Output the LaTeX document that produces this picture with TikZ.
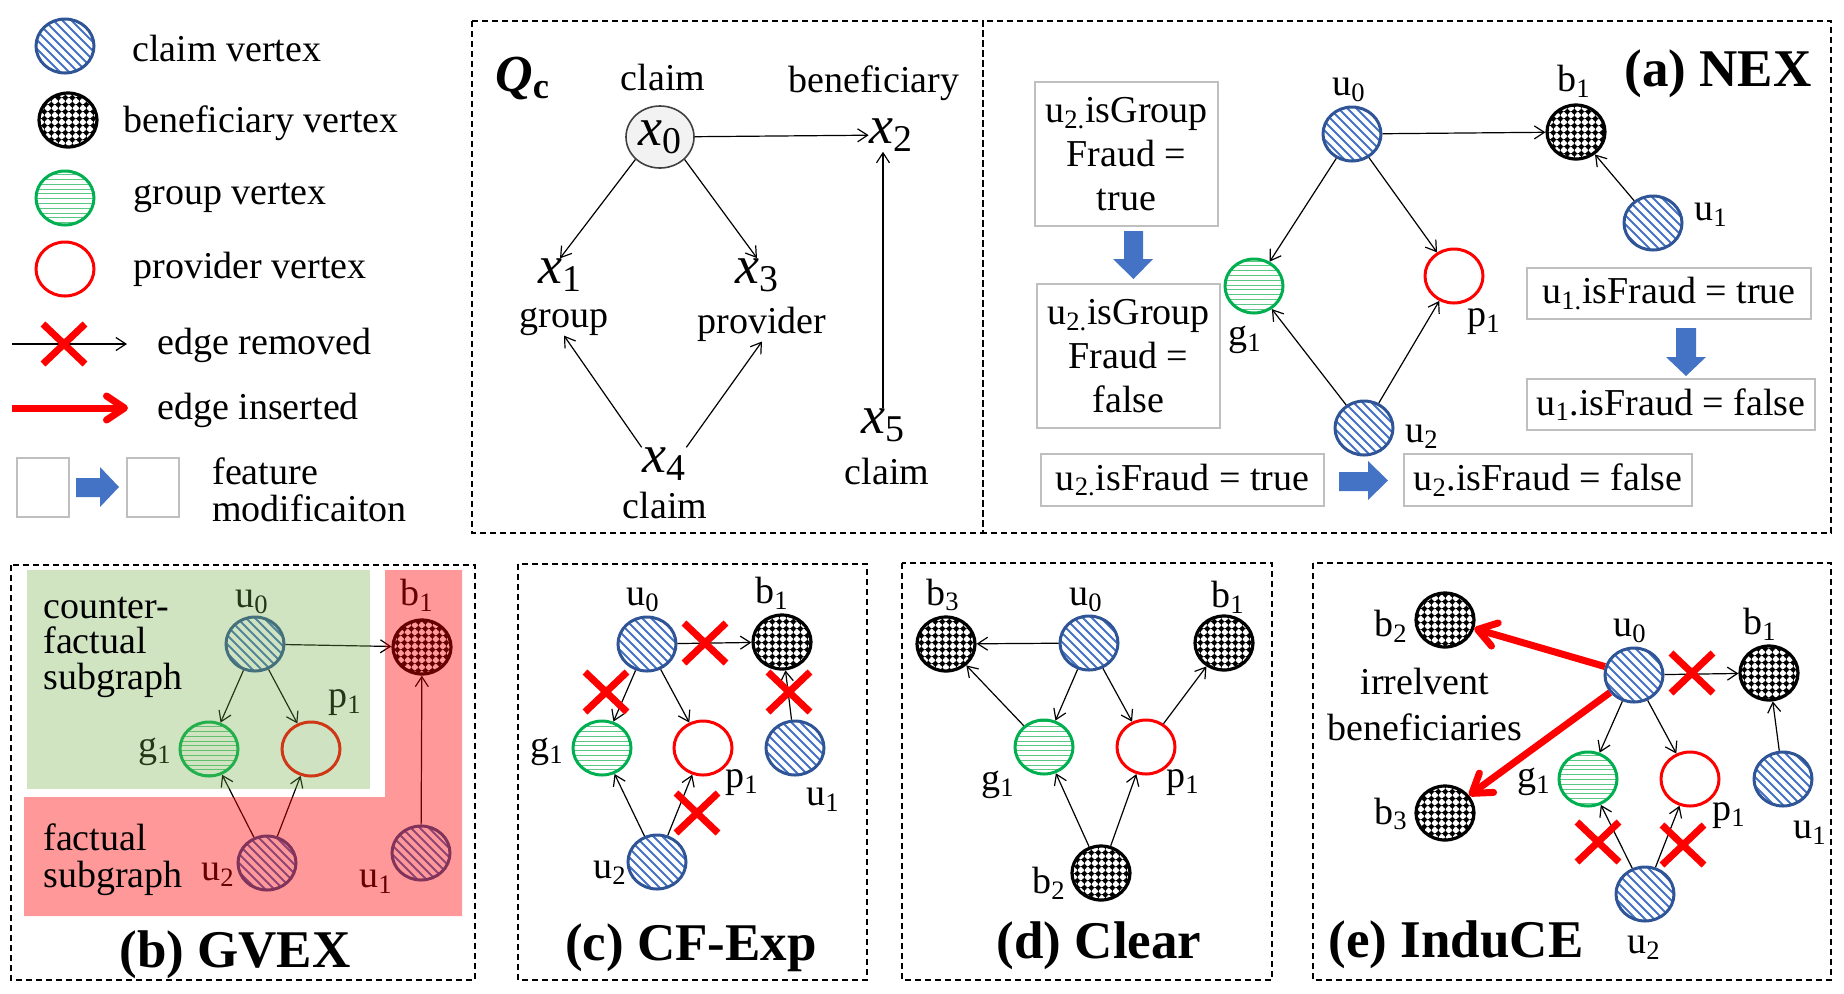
\documentclass[tikz,border=0pt]{standalone}
\usepackage{fontspec}
\setmainfont{Liberation Serif}
\usetikzlibrary{arrows.meta,patterns,shapes.geometric}
\definecolor{claimline}{RGB}{47,85,151}
\definecolor{claimfill}{RGB}{68,114,196}
\definecolor{grpline}{RGB}{0,176,80}
\definecolor{grpfill}{RGB}{90,200,130}
\definecolor{boxgray}{RGB}{191,191,191}
\definecolor{blockblue}{RGB}{68,114,196}
\definecolor{cfgreen}{RGB}{112,173,71}
\pgfdeclarepatternformonly{claimhatch}{\pgfqpoint{-1pt}{-1pt}}{\pgfqpoint{5.5pt}{5.5pt}}{\pgfqpoint{4.5pt}{4.5pt}}{%
  \pgfsetlinewidth{0.9pt}%
  \pgfpathmoveto{\pgfqpoint{0pt}{4.5pt}}\pgfpathlineto{\pgfqpoint{4.6pt}{-0.1pt}}%
  \pgfusepath{stroke}}
\pgfdeclarepatternformonly{grphatch}{\pgfqpoint{-1pt}{0pt}}{\pgfqpoint{3.4pt}{2.4pt}}{\pgfqpoint{2.4pt}{2.4pt}}{%
  \pgfsetlinewidth{0.5pt}%
  \pgfpathmoveto{\pgfqpoint{-0.1pt}{1.2pt}}\pgfpathlineto{\pgfqpoint{2.5pt}{1.2pt}}%
  \pgfusepath{stroke}}
\pgfdeclarepatternformonly{bendots}{\pgfpointorigin}{\pgfqpoint{3.4pt}{3.4pt}}{\pgfqpoint{3.4pt}{3.4pt}}{%
  \pgfsetlinewidth{0.5pt}%
  \pgfpathmoveto{\pgfqpoint{0pt}{1.7pt}}\pgfpathlineto{\pgfqpoint{3.4pt}{1.7pt}}%
  \pgfpathmoveto{\pgfqpoint{1.7pt}{0pt}}\pgfpathlineto{\pgfqpoint{1.7pt}{3.4pt}}%
  \pgfusepath{stroke}%
  \pgfpathcircle{\pgfqpoint{1.7pt}{1.7pt}}{1.25pt}\pgfusepath{fill}}
\begin{document}
\begin{tikzpicture}[x=0.5pt,y=-0.5pt,
  vtx/.style={ellipse,line width=1.5pt,minimum width=29pt,minimum height=27pt,inner sep=0pt},
  claim/.style={vtx,draw=claimline,pattern=claimhatch,pattern color=claimfill},
  ben/.style={vtx,draw=black,line width=1.6pt,pattern=bendots,pattern color=black},
  grp/.style={vtx,draw=grpline,pattern=grphatch,pattern color=grpfill},
  prov/.style={vtx,draw=red,fill=white},
  edg/.style={draw,line width=0.6pt,-{Straight Barb[length=5pt,width=6.5pt]}},
  ins/.style={draw=red,line width=3.5pt,-{Straight Barb[length=9pt,width=12pt,round]}},
  lbl/.style={font=\fontsize{19}{19}\selectfont,inner sep=0pt},
  txt/.style={lbl,anchor=base west},
  mth/.style={font=\fontsize{27}{27}\selectfont\itshape,inner sep=0pt},
  ttl/.style={font=\fontsize{26.5}{26.5}\selectfont\bfseries,inner sep=0pt},
  fbox/.style={draw=boxgray,line width=0.8pt,font=\fontsize{19}{22}\selectfont,align=center,inner sep=0pt},
  panel/.style={draw,dash pattern=on 3pt off 2pt,line width=0.7pt},
  xmark/.pic={\draw[red,line width=3.5pt] (-21,-20) -- (21,20) (-21,20) -- (21,-20);}]
\useasboundingbox (0,0) rectangle (1844,993);
\draw[panel] (472,21) rectangle (983,533);
\draw[panel] (983,21) rectangle (1831,533);
\draw[panel] (11,565) rectangle (475,980);
\draw[panel] (518,564) rectangle (867,980);
\draw[panel] (902,563) rectangle (1272,980);
\draw[panel] (1313,563) rectangle (1831,980);
% legend
\node[claim] (lc) at (65,46) {};
\node[ben] (lb) at (68,120) {};
\node[grp] (lg) at (65,198) {};
\node[prov] (lp) at (65,269) {};
\node[txt] (lct) at (132,61) {claim vertex};
\node[txt] (lbt) at (123,132) {beneficiary vertex};
\node[txt] (lgt) at (133,204) {group vertex};
\node[txt] (lpt) at (133,278) {provider vertex};
\coordinate (rm1) at (12,344);
\coordinate (rm2) at (127,344);
\draw[edg] (rm1) -- (rm2);
\pic at (64,344) {xmark};
\node[txt] (lrt) at (157,354) {edge removed};
\coordinate (in1) at (12,408);
\coordinate (in2) at (128,408);
\draw[ins] (in1) -- (in2);
\node[txt] (lit) at (157,419) {edge inserted};
\draw[boxgray,line width=0.8pt] (17,458) rectangle (69,517) (127,458) rectangle (179,517);
\fill[blockblue] (76,478) -- (100,478) -- (100,467) -- (119,487) -- (100,507) -- (100,497) -- (76,497) -- cycle;
\node[txt] (lft) at (212,484) {feature};
\node[txt] (lmt) at (212,521) {modificaiton};
% Q_c
\node[mth,font=\fontsize{26}{26}\selectfont\bfseries\itshape,anchor=base west] (qc) at (495,91) {Q\textsubscript{\upshape c}};
\node[mth,ellipse,draw=black!75,fill=black!5,line width=0.8pt,minimum width=34pt,minimum height=31pt] (x0) at (660,137) {x\textsubscript{\upshape 0}};
\node[mth] (x2) at (891,135) {x\textsubscript{\upshape 2}};
\node[mth] (x1) at (560,275) {x\textsubscript{\upshape 1}};
\node[mth] (x3) at (757,275) {x\textsubscript{\upshape 3}};
\node[mth] (x4) at (664,464) {x\textsubscript{\upshape 4}};
\node[mth] (x5) at (883,425) {x\textsubscript{\upshape 5}};
\node[lbl,anchor=base] (x0l) at (663,90) {claim};
\node[lbl,anchor=base] (x2l) at (874,92) {beneficiary};
\node[lbl,anchor=base] (x1l) at (564,327) {group};
\node[lbl,anchor=base] (x3l) at (762,333) {provider};
\node[lbl,anchor=base] (x4l) at (665,518) {claim};
\node[lbl,anchor=base] (x5l) at (887,484) {claim};
\draw[edg] (x0) -- (x2);
\draw[edg] (x0.south west) -- (x1.north);
\draw[edg] (x0.south east) -- (x3.north);
\draw[edg] (x4.north west) -- (x1l.south);
\draw[edg] (x4.north east) -- (x3l.south);
\draw[edg] (x5.north) -- (x5.north |- x2.south);
% (a) NEX
\node[claim] (nu0) at (1352,134) {};
\node[ben] (nb1) at (1576,132) {};
\node[claim] (nu1) at (1653,223) {};
\node[grp] (ng1) at (1254,286) {};
\node[prov] (np1) at (1454,276) {};
\node[claim] (nu2) at (1364,428) {};
\node[lbl] (nu0l) at (1349,90) {u\textsubscript{0}};
\node[lbl] (nb1l) at (1574,81) {b\textsubscript{1}};
\node[lbl] (nu1l) at (1711,215) {u\textsubscript{1}};
\node[lbl] (ng1l) at (1245,340) {g\textsubscript{1}};
\node[lbl] (np1l) at (1484,322) {p\textsubscript{1}};
\node[lbl] (nu2l) at (1422,437) {u\textsubscript{2}};
\path (nu0) edge[edg] (nb1) edge[edg] (ng1) edge[edg] (np1)
      (nu2) edge[edg] (ng1) edge[edg] (np1)
      (nu1) edge[edg] (nb1);
\node[fbox,minimum width=91.5pt,minimum height=72pt] (gb1) at (1126.5,154) {u\textsubscript{2.}isGroup\\Fraud =\\true};
\node[fbox,minimum width=91.5pt,minimum height=72pt] (gb2) at (1128.5,356) {u\textsubscript{2.}isGroup\\Fraud =\\false};
\node[fbox,minimum width=141.5pt,minimum height=26pt] (fb1) at (1182.5,480) {u\textsubscript{2.}isFraud = true};
\node[fbox,minimum width=144pt,minimum height=26pt] (fb2) at (1548,480) {u\textsubscript{2}.isFraud = false};
\node[fbox,minimum width=142pt,minimum height=25.5pt] (fb3) at (1669,293.5) {u\textsubscript{1.}isFraud = true};
\node[fbox,minimum width=144pt,minimum height=25.5pt] (fb4) at (1671,404.5) {u\textsubscript{1}.isFraud = false};
\fill[blockblue] (1124,231) -- (1143,231) -- (1143,259) -- (1153,259) -- (1133.5,279) -- (1113,259) -- (1124,259) -- cycle;
\fill[blockblue] (1339,472) -- (1368,472) -- (1368,461) -- (1388,480.5) -- (1368,500) -- (1368,491) -- (1339,491) -- cycle;
\fill[blockblue] (1676,328) -- (1696,328) -- (1696,357) -- (1706,357) -- (1686,376) -- (1666,357) -- (1676,357) -- cycle;
\node[ttl] (ta) at (1718,74) {(a) NEX};
% (b) GVEX
\node[claim] (gu0) at (255,644) {};
\node[ben] (gb1) at (422,647) {};
\node[grp] (gg1) at (209,749) {};
\node[prov] (gp1) at (311,749) {};
\node[claim] (gu2) at (267,863) {};
\node[claim] (gu1) at (421,853) {};
\node[lbl] (gu0l) at (252,602) {u\textsubscript{0}};
\node[lbl] (gb1l) at (417,595) {b\textsubscript{1}};
\node[lbl] (gg1l) at (155,752) {g\textsubscript{1}};
\node[lbl] (gp1l) at (345,703) {p\textsubscript{1}};
\node[lbl] (gu2l) at (218,875) {u\textsubscript{2}};
\node[lbl] (gu1l) at (376,882) {u\textsubscript{1}};
\path (gu0) edge[edg] (gb1) edge[edg] (gg1) edge[edg] (gp1)
      (gu2) edge[edg] (gg1) edge[edg] (gp1)
      (gu1) edge[edg] (gb1);
\fill[cfgreen,fill opacity=0.33] (27,570) rectangle (370,789);
\fill[red,fill opacity=0.4] (385,570) -- (462,570) -- (462,916) -- (24,916) -- (24,797) -- (385,797) -- cycle;
\node[lbl,font=\fontsize{19}{17.75}\selectfont,align=left,anchor=west] (cft) at (43,647) {counter-\\factual\\subgraph};
\node[lbl,font=\fontsize{19}{18.5}\selectfont,align=left,anchor=west] (ft) at (43,860) {factual\\subgraph};
\node[ttl] (tb) at (235,955) {(b) GVEX};
% (c) CF-Exp
\node[claim] (cu0) at (647,644) {};
\node[ben] (cb1) at (782,642) {};
\node[grp] (cg1) at (602,748) {};
\node[prov] (cp1) at (703,748) {};
\node[claim] (cu1) at (795,748) {};
\node[claim] (cu2) at (657,862) {};
\node[lbl] (cu0l) at (643,600) {u\textsubscript{0}};
\node[lbl] (cb1l) at (772,593) {b\textsubscript{1}};
\node[lbl] (cg1l) at (547,752) {g\textsubscript{1}};
\node[lbl] (cp1l) at (742,783) {p\textsubscript{1}};
\node[lbl] (cu1l) at (823,800) {u\textsubscript{1}};
\node[lbl] (cu2l) at (610,873) {u\textsubscript{2}};
\path (cu0) edge[edg] (cb1) edge[edg] (cg1) edge[edg] (cp1)
      (cu2) edge[edg] (cg1) edge[edg] (cp1)
      (cu1) edge[edg] (cb1);
\pic at (705,643) {xmark};
\pic at (606,692) {xmark};
\pic at (789,692) {xmark};
\pic at (697,813) {xmark};
\node[ttl] (tc) at (691,948) {(c) CF-Exp};
% (d) Clear
\node[ben] (db3) at (946,644) {};
\node[claim] (du0) at (1089,643) {};
\node[ben] (db1) at (1224,643) {};
\node[grp] (dg1) at (1044,747) {};
\node[prov] (dp1) at (1146,747) {};
\node[ben] (db2) at (1101,873) {};
\node[lbl] (db3l) at (943,595) {b\textsubscript{3}};
\node[lbl] (du0l) at (1086,600) {u\textsubscript{0}};
\node[lbl] (db1l) at (1228,597) {b\textsubscript{1}};
\node[lbl] (dg1l) at (998,785) {g\textsubscript{1}};
\node[lbl] (dp1l) at (1183,783) {p\textsubscript{1}};
\node[lbl] (db2l) at (1049,883) {b\textsubscript{2}};
\path (du0) edge[edg] (db3) edge[edg] (dg1) edge[edg] (dp1)
      (dg1) edge[edg] (db3)
      (dp1) edge[edg] (db1)
      (db2) edge[edg] (dg1) edge[edg] (dp1);
\node[ttl] (td) at (1099,946) {(d) Clear};
% (e) InduCE
\node[ben] (eb2) at (1445,620) {};
\node[ben] (eb3) at (1445,813) {};
\node[claim] (eu0) at (1634,675) {};
\node[ben] (eb1) at (1769,673) {};
\node[grp] (eg1) at (1588,779) {};
\node[prov] (ep1) at (1690,779) {};
\node[claim] (eu1) at (1783,779) {};
\node[claim] (eu2) at (1645,894) {};
\node[lbl] (eb2l) at (1391,626) {b\textsubscript{2}};
\node[lbl] (eb3l) at (1391,814) {b\textsubscript{3}};
\node[lbl] (eu0l) at (1630,631) {u\textsubscript{0}};
\node[lbl] (eb1l) at (1760,624) {b\textsubscript{1}};
\node[lbl] (eg1l) at (1534,782) {g\textsubscript{1}};
\node[lbl] (ep1l) at (1729,816) {p\textsubscript{1}};
\node[lbl] (eu1l) at (1810,833) {u\textsubscript{1}};
\node[lbl] (eu2l) at (1644,948) {u\textsubscript{2}};
\node[lbl,font=\fontsize{19}{23}\selectfont,align=center] (irr) at (1425,704) {irrelvent\\beneficiaries};
\path (eu0) edge[edg] (eb1) edge[edg] (eg1) edge[edg] (ep1)
      (eu2) edge[edg] (eg1) edge[edg] (ep1)
      (eu1) edge[edg] (eb1);
\draw[ins] (eu0) -- (eb2);
\draw[ins] (eu0) -- (eb3);
\pic at (1692,673) {xmark};
\pic at (1598,842) {xmark};
\pic at (1683,845) {xmark};
\node[ttl] (te) at (1456,945) {(e) InduCE};
\end{tikzpicture}
\end{document}
